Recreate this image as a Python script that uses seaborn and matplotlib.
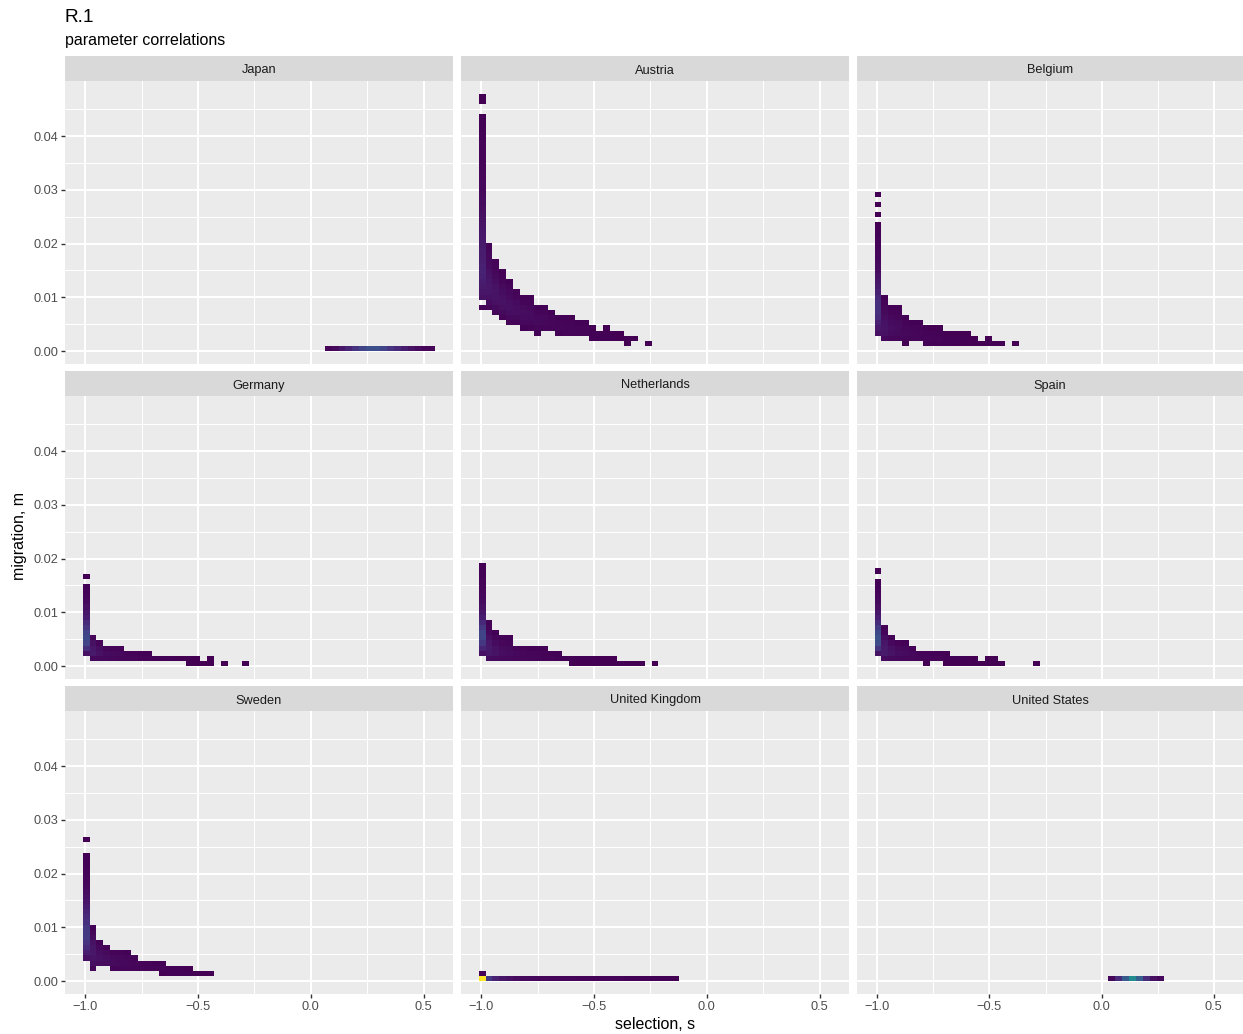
import numpy as np
import pandas as pd
import matplotlib
matplotlib.use("Agg")
import matplotlib.pyplot as plt
from matplotlib.ticker import FixedLocator, FixedFormatter
import seaborn as sns

# ---------------- data ----------------
countries = ["Japan", "Austria", "Belgium", "Germany", "Netherlands", "Spain",
             "Sweden", "United Kingdom", "United States"]

# bin grid of the 2-d histogram (selection s on x, migration m on y)
s_origin = -1.0121
s_binwidth = 0.03067
s_nbins = 51
m_origin = 0.0
m_binwidth = 0.000957
m_nbins = 50
count_max = 1000

x_ticks = [-1.0, -0.5, 0.0, 0.5]
x_ticklabels = ["\u22121.0", "\u22120.5", "0.0", "0.5"]
x_minor = [-0.75, -0.25, 0.25]
y_ticks = [0.00, 0.01, 0.02, 0.03, 0.04]
y_ticklabels = ["0.00", "0.01", "0.02", "0.03", "0.04"]
y_minor = [0.005, 0.015, 0.025, 0.035, 0.045]

# cells: (s-bin, first m-bin, counts going upward from that m-bin)
japan = [(35, 0, [10]), (36, 0, [25]), (37, 0, [60]), (38, 0, [100]),
         (39, 0, [150]), (40, 0, [200]), (41, 0, [240]), (42, 0, [240]),
         (43, 0, [200]), (44, 0, [150]), (45, 0, [110]), (46, 0, [75]),
         (47, 0, [50]), (48, 0, [30]), (49, 0, [15]), (50, 0, [8])]

austria = [
    (0, 8, [10]),
    (0, 10, [45, 55, 70, 80, 90, 95, 90, 85, 80, 75, 70, 65, 60, 55, 50, 45, 40, 35,
             30, 28, 25, 22, 20, 18, 16, 14, 12, 11, 10, 9, 8, 7, 6, 5, 4, 3]),
    (0, 48, [2, 2]),
    (1, 8, [15, 30, 45, 55, 60, 55, 50, 40, 30, 25, 20, 15, 10]),
    (2, 7, [12, 25, 40, 50, 50, 45, 35, 25, 18, 12, 8]),
    (3, 6, [10, 25, 38, 45, 42, 35, 25, 15, 10, 6]),
    (4, 5, [8, 20, 35, 40, 38, 30, 20, 12, 6]),
    (5, 5, [10, 25, 35, 35, 28, 18, 8]),
    (6, 4, [6, 20, 30, 32, 25, 15, 6]),
    (7, 4, [8, 22, 30, 28, 20, 10, 4]),
    (8, 3, [4, 15, 25, 22, 15, 6]),
    (9, 4, [12, 20, 20, 12, 5]),
    (10, 4, [15, 18, 12, 5]),
    (11, 3, [6, 15, 12, 6]),
    (12, 3, [8, 14, 10, 4]),
    (13, 3, [8, 12, 8, 3]),
    (14, 3, [8, 10, 5]),
    (15, 3, [8, 8, 4]),
    (16, 2, [4, 6, 3]),
    (17, 2, [5, 4]),
    (18, 2, [4, 4, 2]),
    (19, 2, [4, 3]),
    (20, 2, [3, 2]),
    (21, 1, [2, 2]),
    (22, 2, [2]),
    (24, 1, [1]),
]

belgium = [
    (0, 3, [40, 60, 90, 120, 140, 140, 130, 110, 90, 70, 55, 45, 35, 28, 22, 18,
            14, 10, 8, 6, 4, 3]),
    (0, 26, [1]), (0, 28, [1]), (0, 30, [1]),
    (1, 2, [20, 40, 50, 45, 35, 25, 18, 10, 5]),
    (2, 2, [15, 30, 35, 30, 20, 10, 5]),
    (3, 2, [15, 25, 30, 25, 15, 8, 3]),
    (4, 1, [2, 15, 20, 18, 10, 4]),
    (5, 2, [15, 18, 12, 5]),
    (6, 2, [12, 15, 10, 4]),
    (7, 1, [4, 12, 10, 4]),
    (8, 1, [4, 10, 8, 3]),
    (9, 1, [4, 8, 6, 2]),
    (10, 1, [4, 7, 3]),
    (11, 1, [4, 6, 2]),
    (12, 1, [3, 5, 2]),
    (13, 1, [3, 4, 2]),
    (14, 1, [3, 2]),
    (15, 1, [3]),
    (16, 1, [2, 1]),
    (17, 1, [2]),
    (18, 1, [1]),
    (20, 1, [1]),
]

germany = [
    (0, 2, [40, 130, 200, 220, 200, 150, 110, 80, 60, 40, 25, 15, 8, 4]),
    (0, 17, [1]),
    (1, 1, [20, 70, 60, 40, 10]),
    (2, 1, [20, 45, 35, 10]),
    (3, 1, [20, 30, 12]),
    (4, 1, [18, 25, 10]),
    (5, 1, [15, 20, 8]),
    (6, 1, [14, 10]),
    (7, 1, [12, 8]),
    (8, 1, [10, 6]),
    (9, 1, [8, 4]),
    (10, 1, [6]), (11, 1, [5]), (12, 1, [4]), (13, 1, [3]), (14, 1, [3]),
    (15, 0, [2, 2]),
    (16, 0, [2, 2]),
    (17, 0, [2]),
    (18, 0, [1, 1]),
    (20, 0, [1]),
    (23, 0, [1]),
]

netherlands = [
    (0, 2, [40, 100, 160, 200, 200, 160, 110, 80, 55, 40, 30, 22, 16, 12, 8, 6, 4, 3]),
    (1, 1, [30, 60, 70, 60, 40, 20, 10, 5]),
    (2, 1, [25, 50, 45, 30, 15, 5]),
    (3, 1, [20, 35, 30, 18, 6]),
    (4, 1, [20, 30, 25, 15, 5]),
    (5, 1, [18, 20, 10]),
    (6, 1, [16, 18, 8]),
    (7, 1, [14, 15, 6]),
    (8, 1, [12, 12, 5]),
    (9, 1, [10, 10, 4]),
    (10, 1, [8, 6]),
    (11, 1, [7, 5]),
    (12, 1, [6]),
    (13, 0, [2, 5]), (14, 0, [2, 5]), (15, 0, [2, 4]), (16, 0, [2, 4]),
    (17, 0, [2, 3]), (18, 0, [2, 3]), (19, 0, [2, 2]),
    (20, 0, [2]), (21, 0, [2]), (22, 0, [1]), (23, 0, [1]),
    (25, 0, [1]),
]

spain = [
    (0, 2, [50, 150, 230, 250, 220, 170, 120, 80, 55, 38, 25, 16, 10, 6, 3]),
    (0, 18, [1]),
    (1, 1, [30, 70, 70, 55, 35, 15, 5]),
    (2, 1, [25, 50, 40, 20, 6]),
    (3, 1, [20, 35, 25, 8]),
    (4, 1, [18, 30, 20, 6]),
    (5, 1, [16, 22, 8]),
    (6, 1, [14, 10]),
    (7, 0, [1, 12, 8]),
    (8, 1, [10, 6]),
    (9, 1, [8, 5]),
    (10, 0, [1, 7, 3]),
    (11, 0, [2, 6]), (12, 0, [2, 5]), (13, 0, [2, 4]), (14, 0, [2, 3]),
    (15, 0, [2]),
    (16, 0, [2, 2]), (17, 0, [1, 2]),
    (18, 0, [1]),
    (23, 0, [1]),
]

sweden = [
    (0, 4, [40, 80, 120, 150, 170, 170, 160, 140, 120, 100, 80, 60, 45, 35, 25, 18,
            12, 8, 6, 4, 3]),
    (0, 27, [1]),
    (1, 2, [15, 35, 50, 60, 55, 45, 30, 15, 5]),
    (2, 3, [30, 40, 35, 20, 6]),
    (3, 3, [30, 35, 25, 8]),
    (4, 2, [10, 25, 25, 10]),
    (5, 2, [12, 22, 22, 8]),
    (6, 2, [12, 20, 18, 6]),
    (7, 2, [12, 18, 8]),
    (8, 2, [12, 10]),
    (9, 2, [10, 8]),
    (10, 2, [10, 6]),
    (11, 1, [3, 8, 4]),
    (12, 1, [4, 6]), (13, 1, [4, 5]), (14, 1, [4, 4]), (15, 1, [4, 3]),
    (16, 1, [3]), (17, 1, [2]), (18, 1, [2]),
]

united_kingdom = [
    (0, 0, [1000, 10]),
    (1, 0, [170]), (2, 0, [90]), (3, 0, [55]), (4, 0, [40]), (5, 0, [30]),
    (6, 0, [25]), (7, 0, [20]), (8, 0, [18]), (9, 0, [16]), (10, 0, [15]),
    (11, 0, [14]), (12, 0, [13]), (13, 0, [12]), (14, 0, [11]), (15, 0, [10]),
    (16, 0, [10]), (17, 0, [9]), (18, 0, [9]), (19, 0, [8]), (20, 0, [8]),
    (21, 0, [7]), (22, 0, [7]), (23, 0, [6]), (24, 0, [6]), (25, 0, [5]),
    (26, 0, [5]), (27, 0, [4]), (28, 0, [3]),
]

united_states = [(34, 0, [15]), (35, 0, [120]), (36, 0, [280]), (37, 0, [480]),
                 (38, 0, [300]), (39, 0, [120]), (40, 0, [40]), (41, 0, [20])]

panel_cells = [japan, austria, belgium, germany, netherlands, spain,
               sweden, united_kingdom, united_states]


def cells_to_frame(cells):
    s, m, n = [], [], []
    for sb, mb, counts in cells:
        for k, c in enumerate(counts):
            s.append(s_origin + (sb + 0.5) * s_binwidth)
            m.append(m_origin + (mb + k + 0.5) * m_binwidth)
            n.append(c)
    return pd.DataFrame({"s": s, "m": m, "n": n})


# ---------------- figure ----------------
plt.rcParams["font.family"] = ["Liberation Sans", "DejaVu Sans"]

W, H = 1243, 1034
fig = plt.figure(figsize=(W / 100, H / 100), dpi=100)
fig.patch.set_facecolor("white")

col_x = [65, 461, 857]
col_w = [388, 388, 386]
row_top = [81, 396, 711]
panel_h, strip_h = 283, 25

x_edges = s_origin + s_binwidth * np.arange(s_nbins + 1)
y_edges = m_origin + m_binwidth * np.arange(m_nbins + 1)
xr = x_edges[-1] - x_edges[0]
yr = y_edges[-1] - y_edges[0]
xlim = (x_edges[0] - 0.05 * xr, x_edges[-1] + 0.05 * xr)
ylim = (y_edges[0] - 0.05 * yr, y_edges[-1] + 0.05 * yr)

axis_text_col = "#4D4D4D"
small = 9.2
for i, (name, cells) in enumerate(zip(countries, panel_cells)):
    r, c = divmod(i, 3)
    x0, top, pw = col_x[c], row_top[r], col_w[c]
    ax = fig.add_axes([x0 / W, 1 - (top + panel_h) / H, pw / W, panel_h / H])
    df = cells_to_frame(cells)
    sns.histplot(data=df, x="s", y="m", weights="n", bins=[x_edges, y_edges],
                 cmap="viridis", vmin=0, vmax=count_max, cbar=False, ax=ax)
    ax.set_xlim(*xlim)
    ax.set_ylim(*ylim)
    ax.set_facecolor("#EBEBEB")
    for sp in ax.spines.values():
        sp.set_visible(False)
    ax.set_xlabel("")
    ax.set_ylabel("")
    ax.xaxis.set_major_locator(FixedLocator(x_ticks))
    ax.xaxis.set_major_formatter(FixedFormatter(x_ticklabels))
    ax.xaxis.set_minor_locator(FixedLocator(x_minor))
    ax.yaxis.set_major_locator(FixedLocator(y_ticks))
    ax.yaxis.set_major_formatter(FixedFormatter(y_ticklabels))
    ax.yaxis.set_minor_locator(FixedLocator(y_minor))
    ax.set_axisbelow(True)
    ax.grid(which="major", color="white", linewidth=1.45)
    ax.grid(which="minor", color="white", linewidth=0.72)
    ax.tick_params(which="minor", length=0)
    ax.tick_params(which="major", length=2.75, width=1.0, color="#333333",
                   labelsize=small, labelcolor=axis_text_col, pad=2.2)
    if r != 2:
        ax.tick_params(axis="x", which="major", length=0, labelbottom=False)
    if c != 0:
        ax.tick_params(axis="y", which="major", length=0, labelleft=False)

    sax = fig.add_axes([x0 / W, 1 - top / H, pw / W, strip_h / H])
    sax.set_facecolor("#D9D9D9")
    sax.set_xticks([])
    sax.set_yticks([])
    for sp in sax.spines.values():
        sp.set_visible(False)
    sax.text(0.5, 0.48, name, ha="center", va="center_baseline", fontsize=small,
             color="#1A1A1A", transform=sax.transAxes)

fig.text(65 / W, 1 - 21.5 / H, "R.1", fontsize=13.7, ha="left", va="baseline",
         color="black")
fig.text(65 / W, 1 - 45 / H, "parameter correlations", fontsize=11.5, ha="left",
         va="baseline", color="black")
fig.text(655 / W, 1 - 1029 / H, "selection, s", fontsize=11.5, ha="center",
         va="baseline", color="black")
fig.text(20 / W, 1 - 536 / H, "migration, m", fontsize=11.5, ha="center",
         va="center", rotation=90, color="black")

fig.savefig("out.png", dpi=100, facecolor="white")
